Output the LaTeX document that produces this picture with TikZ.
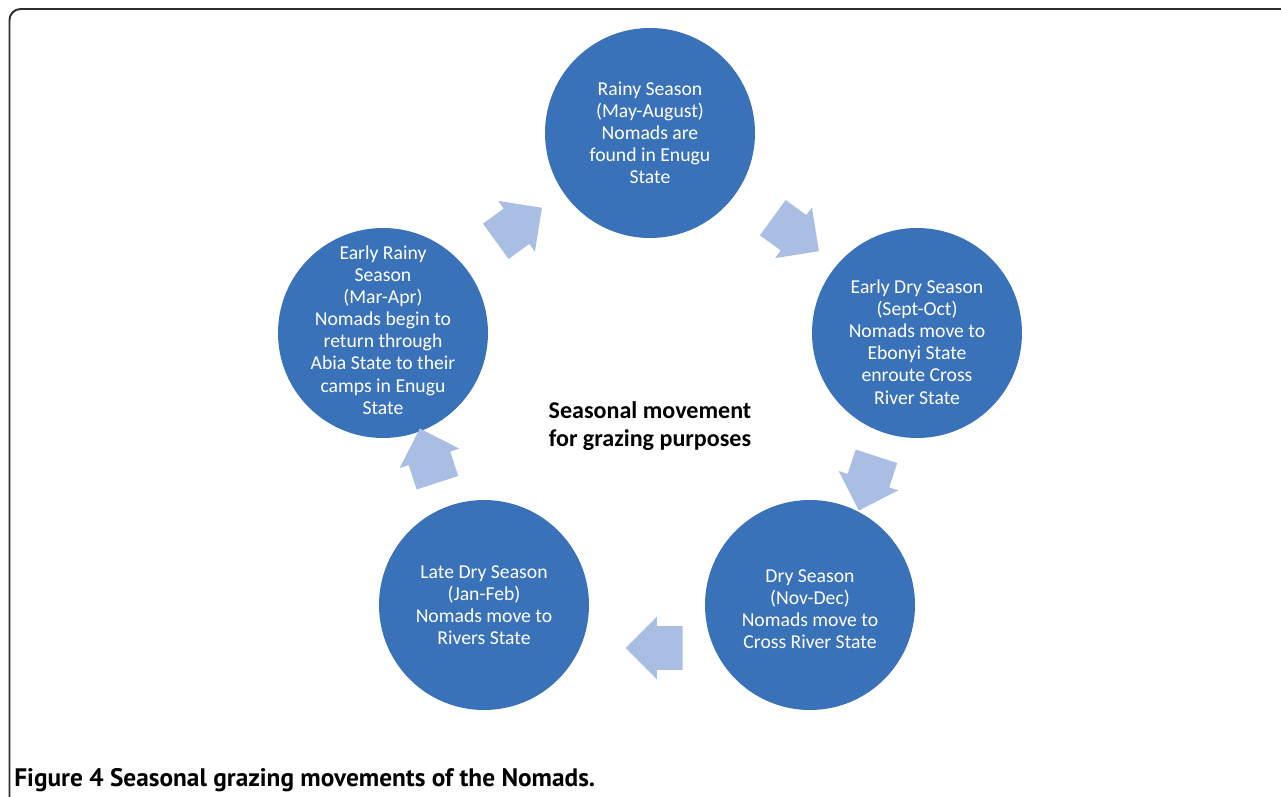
\documentclass[tikz,border=0pt]{standalone}
\usepackage{fontspec}
\setmainfont{Carlito}
\newfontfamily\captionfont{PT Sans}
\usetikzlibrary{positioning,calc,shapes.arrows}
\definecolor{seasonblue}{RGB}{58,114,186}
\definecolor{flowblue}{RGB}{170,190,228}
\definecolor{framegray}{RGB}{45,45,45}

\begin{document}
\begin{tikzpicture}[
		season/.style={circle, fill=seasonblue, minimum size=4.2cm, inner sep=0pt},
		seasontext/.style={align=center, text=white, inner sep=0pt, font=\fontsize{11.2}{12.6}\selectfont},
		flow/.style={single arrow, fill=flowblue, minimum height=1.14cm, minimum width=1.24cm, single arrow head extend=0.19cm, inner xsep=0pt, inner ysep=0.43cm},
		]
		\useasboundingbox (0,0) rectangle (25.62,15.92);
		
		% ===== frame =====
		\draw[framegray, line width=1.1pt, rounded corners=0.22cm] (0.19,-0.5) |- (26.2,15.74);
		
		% ===== 5 seasons =====
		\node[season, label={[seasontext]center:{Rainy Season\\(May-August)\\Nomads are\\found in Enugu\\State}}] (rainy) at (13.0,13.26) {};
		\node[season, label={[seasontext, yshift=-0.18cm]center:{Early Dry Season\\(Sept-Oct)\\Nomads move to\\Ebonyi State\\enroute Cross\\River State}}] (earlydry) at (18.34,9.26) {};
		\node[season, label={[seasontext, yshift=-0.08cm]center:{Dry Season\\(Nov-Dec)\\Nomads move to\\Cross River State}}] (dry) at (16.2,3.82) {};
		\node[season, label={[seasontext]center:{Late Dry Season\\(Jan-Feb)\\Nomads move to\\Rivers State}}] (latedry) at (9.68,3.82) {};
		\node[season, label={[seasontext, yshift=0.06cm]center:{Early Rainy\\Season\\(Mar-Apr)\\Nomads begin to\\return through\\Abia State to their\\camps in Enugu\\State}}] (earlyrainy) at (7.66,9.26) {};
		
		% ===== centre text =====
		\node[font=\fontsize{13.7}{16}\selectfont\bfseries, align=center] (cycle) at (13.0,7.4) {Seasonal movement\\for grazing purposes};
		
		% ===== arrows between seasons =====
		\node[flow, rotate=36] (f1) at (10.2,11.3) {};
		\node[flow, rotate=-36] (f2) at (15.74,11.36) {};
		\node[flow, rotate=-108] (f3) at (17.42,6.46) {};
		\node[flow, rotate=180] (f4) at (13.3,2.96) {};
		\node[flow, rotate=108] (f5) at (8.64,6.6) {};
		
		% ===== caption =====
		\node[anchor=base west, inner sep=0pt, font=\captionfont\fontsize{14.4}{17}\selectfont\bfseries] (caption) at (0.28,0.2) {Figure 4 Seasonal grazing movements of the Nomads.};
		
	\end{tikzpicture}
\end{document}
